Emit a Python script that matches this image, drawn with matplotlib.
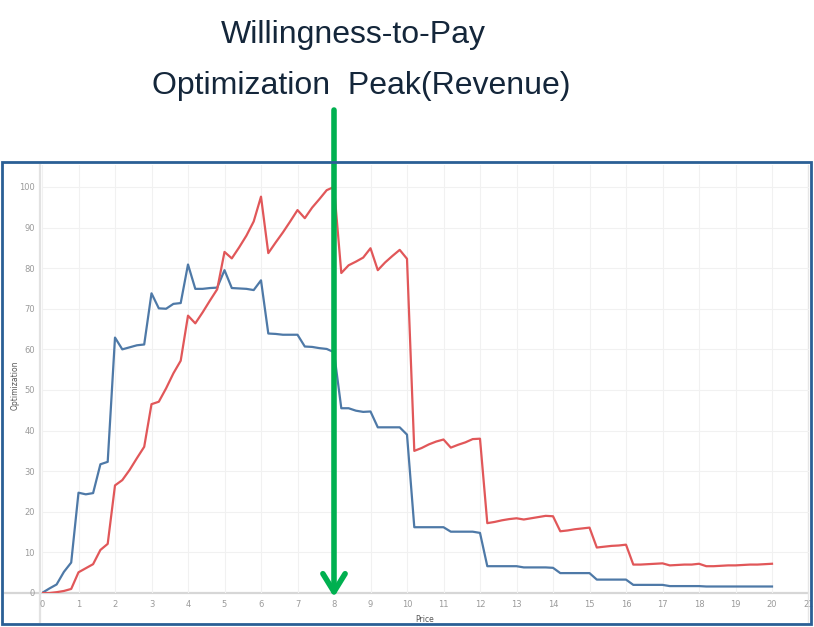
import matplotlib
matplotlib.use("Agg")
import matplotlib.pyplot as plt
from matplotlib.patches import Rectangle
from matplotlib.lines import Line2D

# price grid (step 0.2)
PRICE = [
    0.0, 0.2, 0.4, 0.6, 0.8, 1.0, 1.2, 1.4, 1.6, 1.8,
    2.0, 2.2, 2.4, 2.6, 2.8, 3.0, 3.2, 3.4, 3.6, 3.8,
    4.0, 4.2, 4.4, 4.6, 4.8, 5.0, 5.2, 5.4, 5.6, 5.8,
    6.0, 6.2, 6.4, 6.6, 6.8, 7.0, 7.2, 7.4, 7.6, 7.8,
    8.0, 8.2, 8.4, 8.6, 8.8, 9.0, 9.2, 9.4, 9.6, 9.8,
    10.0, 10.2, 10.4, 10.6, 10.8, 11.0, 11.2, 11.4, 11.6, 11.8,
    12.0, 12.2, 12.4, 12.6, 12.8, 13.0, 13.2, 13.4, 13.6, 13.8,
    14.0, 14.2, 14.4, 14.6, 14.8, 15.0, 15.2, 15.4, 15.6, 15.8,
    16.0, 16.2, 16.4, 16.6, 16.8, 17.0, 17.2, 17.4, 17.6, 17.8,
    18.0, 18.2, 18.4, 18.6, 18.8, 19.0, 19.2, 19.4, 19.6, 19.8,
    20.0,
]

# blue series (willingness-to-pay)
WTP = [
    0.0, 1.1, 2.1, 5.2, 7.5, 24.7, 24.3, 24.6, 31.7, 32.3,
    62.9, 60.0, 60.5, 61.0, 61.2, 73.8, 70.1, 70.0, 71.2, 71.4,
    80.9, 74.9, 74.9, 75.1, 75.2, 79.5, 75.1, 75.0, 74.9, 74.6,
    77.0, 63.9, 63.8, 63.6, 63.6, 63.6, 60.7, 60.6, 60.3, 60.1,
    59.3, 45.5, 45.5, 44.9, 44.6, 44.7, 40.8, 40.8, 40.8, 40.8,
    39.0, 16.2, 16.2, 16.2, 16.2, 16.2, 15.1, 15.1, 15.1, 15.1,
    14.8, 6.6, 6.6, 6.6, 6.6, 6.6, 6.3, 6.3, 6.3, 6.3,
    6.2, 4.9, 4.9, 4.9, 4.9, 4.9, 3.3, 3.3, 3.3, 3.3,
    3.3, 2.0, 2.0, 2.0, 2.0, 2.0, 1.7, 1.7, 1.7, 1.7,
    1.7, 1.6, 1.6, 1.6, 1.6, 1.6, 1.6, 1.6, 1.6, 1.6,
    1.6,
]

# red series (revenue)
REVENUE = [
    0.0, 0.0, 0.2, 0.5, 1.0, 5.1, 6.1, 7.1, 10.6, 12.1,
    26.5, 27.8, 30.3, 33.2, 36.0, 46.5, 47.1, 50.4, 54.1, 57.2,
    68.3, 66.4, 69.1, 72.0, 74.8, 84.0, 82.4, 85.1, 88.0, 91.5,
    97.6, 83.7, 86.3, 88.8, 91.5, 94.3, 92.3, 94.9, 97.0, 99.2,
    100.0, 78.8, 80.7, 81.6, 82.6, 84.9, 79.5, 81.4, 83.0, 84.5,
    82.3, 35.0, 35.7, 36.6, 37.3, 37.8, 35.8, 36.5, 37.1, 37.9,
    38.0, 17.2, 17.5, 17.9, 18.2, 18.4, 18.1, 18.4, 18.7, 19.0,
    18.9, 15.2, 15.4, 15.7, 15.9, 16.1, 11.2, 11.4, 11.6, 11.7,
    11.9, 7.0, 7.0, 7.1, 7.2, 7.3, 6.8, 6.9, 7.0, 7.0,
    7.2, 6.6, 6.6, 6.7, 6.8, 6.8, 6.9, 7.0, 7.0, 7.1,
    7.2,
]

X_TICKS = list(range(0, 22))
Y_TICKS = list(range(0, 101, 10))
PEAK_PRICE = 8

W, H = 814, 627


def main() -> None:
    fig = plt.figure(figsize=(W / 100, H / 100), dpi=100)
    ax = fig.add_axes([42 / W, (H - 593) / H, 766.5 / W, 428 / H])
    ax.patch.set_alpha(0)

    ax.plot(PRICE, WTP, color="#4e79a7", lw=1.6, zorder=3)
    ax.plot(PRICE, REVENUE, color="#e15759", lw=1.6, zorder=3)

    ax.set_xlim(0, 21)
    ax.set_ylim(0, 105.4)
    ax.set_xticks(X_TICKS)
    ax.set_yticks(Y_TICKS)
    ax.grid(True, color="#f1f1f1", lw=0.8)
    ax.set_axisbelow(True)
    for s in ax.spines.values():
        s.set_visible(False)
    ax.tick_params(length=0, labelsize=6, labelcolor="#9a9a9a", pad=5)
    for lab in ax.get_xticklabels() + ax.get_yticklabels():
        lab.set_family("DejaVu Sans")

    # axis titles
    fig.text(425 / W, 1 - 619 / H, "Price", fontsize=5.5, color="#555555",
             ha="center", va="center")
    fig.text(15 / W, 1 - 385 / H, "Optimization", fontsize=5.5, color="#555555",
             ha="center", va="center", rotation=90)

    # pane lines: zero line, left separator, right edge (kept under the plot)
    fig.add_artist(Line2D([5 / W, 808 / W], [1 - 593 / H] * 2, color="#d6d6d6",
                          lw=1.6, zorder=-1))
    fig.add_artist(Line2D([40 / W] * 2, [1 - 622 / H, 1 - 165 / H], color="#e2e2e2",
                          lw=1.6, zorder=-1))
    fig.add_artist(Line2D([808 / W] * 2, [1 - 622 / H, 1 - 165 / H], color="#e6e6e6",
                          lw=1.0, zorder=-1))

    # outer blue frame
    fig.add_artist(Rectangle((2 / W, 1 - 624 / H), 809 / W, 462 / H,
                             transform=fig.transFigure, fill=False,
                             edgecolor="#2a5f95", lw=2))

    # peak arrow
    ax.annotate("", xy=(PEAK_PRICE, -1.0), xycoords="data",
                xytext=(PEAK_PRICE, H - 110), textcoords=("data", "figure pixels"),
                arrowprops=dict(arrowstyle="->, head_length=0.65, head_width=0.4",
                                color="#00b050", lw=4, shrinkA=0, shrinkB=0,
                                mutation_scale=20),
                annotation_clip=False, zorder=5)

    # title
    fig.text(353 / W, 1 - 43 / H, "Willingness-to-Pay", fontsize=23,
             family="Liberation Sans", color="#14263a", ha="center", va="baseline")
    fig.text(361 / W, 1 - 94 / H, "Optimization  Peak(Revenue)", fontsize=23,
             family="Liberation Sans", color="#14263a", ha="center", va="baseline")

    fig.savefig("out.png", dpi=100)
    plt.close(fig)


if __name__ == "__main__":
    main()
